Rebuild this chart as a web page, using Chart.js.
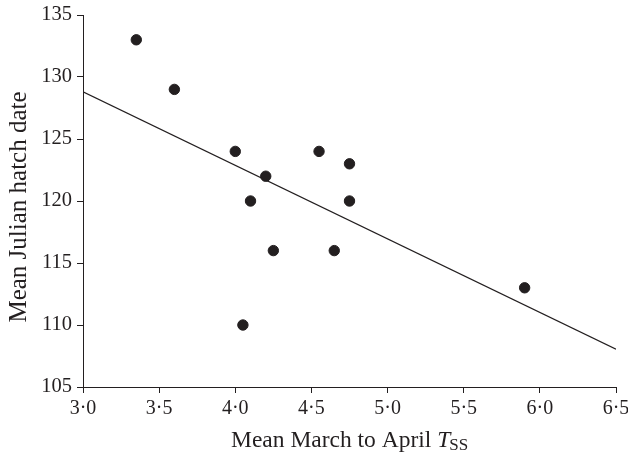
<!DOCTYPE html>
<html>
<head>
<meta charset="utf-8">
<script src="https://cdn.jsdelivr.net/npm/chart.js@4/dist/chart.umd.min.js"></script>
<style>
html,body{margin:0;padding:0;background:#fff;}
#wrap{width:628px;height:455px;}
</style>
</head>
<body>
<div id="wrap"><canvas id="c" width="628" height="455"></canvas></div>
<script>
const pointX = [3.35, 3.6, 4.0, 4.2, 4.1, 4.25, 4.05, 4.55, 4.75, 4.75, 4.65, 5.9];
const pointY = [133, 129, 124, 122, 120, 116, 110, 124, 123, 120, 116, 113];
const lineX = [3.0, 6.5];
const lineY = [128.8, 108.05];
const xTicks = [3.0, 3.5, 4.0, 4.5, 5.0, 5.5, 6.0, 6.5];
const yTicks = [105, 110, 115, 120, 125, 130, 135];
const yTitle = 'Mean Julian hatch date';
const xTitleMain = 'Mean March to April ';
const xTitleVar = 'T';
const xTitleSub = 'SS';

const INK = '#231f20';
const FONT = '"Liberation Serif", "Times New Roman", serif';

const titlesPlugin = {
  id: 'titles',
  afterDraw(chart) {
    const ctx = chart.ctx;
    ctx.save();
    ctx.fillStyle = INK;
    ctx.textBaseline = 'alphabetic';
    ctx.textAlign = 'left';
    const mainFont = '23.5px ' + FONT;
    const varFont = 'italic 23.5px ' + FONT;
    const subFont = '17px ' + FONT;
    ctx.font = mainFont; const w1 = ctx.measureText(xTitleMain).width;
    ctx.font = varFont; const w2 = ctx.measureText(xTitleVar).width;
    let x = 231;
    const base = 447;
    ctx.font = mainFont; ctx.fillText(xTitleMain, x, base); x += w1;
    ctx.font = varFont; ctx.fillText(xTitleVar, x, base); x += w2 - 1;
    ctx.font = subFont; ctx.fillText(xTitleSub, x, base + 3);
    ctx.restore();

    ctx.save();
    ctx.fillStyle = INK;
    ctx.font = '25px ' + FONT;
    ctx.textAlign = 'center';
    ctx.textBaseline = 'alphabetic';
    ctx.translate(26, 207);
    ctx.rotate(-Math.PI / 2);
    ctx.fillText(yTitle, 0, 0);
    ctx.restore();
  }
};

new Chart(document.getElementById('c'), {
  type: 'scatter',
  data: {
    datasets: [
      {
        type: 'line',
        data: lineX.map((x, i) => ({x: x, y: lineY[i]})),
        borderColor: INK,
        borderWidth: 1.2,
        pointRadius: 0,
        fill: false
      },
      {
        data: pointX.map((x, i) => ({x: x, y: pointY[i]})),
        backgroundColor: INK,
        borderColor: INK,
        pointRadius: 5.2,
        pointHoverRadius: 5.2
      }
    ]
  },
  options: {
    responsive: false,
    animation: false,
    events: [],
    layout: {padding: {left: 0, right: 12, top: 15, bottom: 0}},
    plugins: {legend: {display: false}, tooltip: {enabled: false}},
    scales: {
      x: {
        type: 'linear',
        min: 3.0, max: 6.5,
        afterBuildTicks(s) { s.ticks = xTicks.map(v => ({value: v})); },
        afterFit(s) { s.height = 68; s.paddingLeft = 0; s.paddingRight = 0; },
        ticks: {
          color: INK,
          font: {family: FONT, size: 20},
          padding: 4,
          maxRotation: 0,
          autoSkip: false,
          callback: v => v.toFixed(1).replace('.', '\u00B7')
        },
        grid: {display: true, drawOnChartArea: false, drawTicks: true, tickLength: 6, color: INK, lineWidth: 1},
        border: {display: true, color: INK, width: 1},
        title: {display: false}
      },
      y: {
        type: 'linear',
        min: 105, max: 135,
        afterBuildTicks(s) { s.ticks = yTicks.map(v => ({value: v})); },
        afterFit(s) { s.width = 83; s.paddingTop = 0; s.paddingBottom = 0; },
        ticks: {
          color: INK,
          font: {family: FONT, size: 20.5},
          padding: 5,
          autoSkip: false
        },
        grid: {display: true, drawOnChartArea: false, drawTicks: true, tickLength: 6, color: INK, lineWidth: 1},
        border: {display: true, color: INK, width: 1},
        title: {display: false}
      }
    }
  },
  plugins: [titlesPlugin]
});
</script>
</body>
</html>
